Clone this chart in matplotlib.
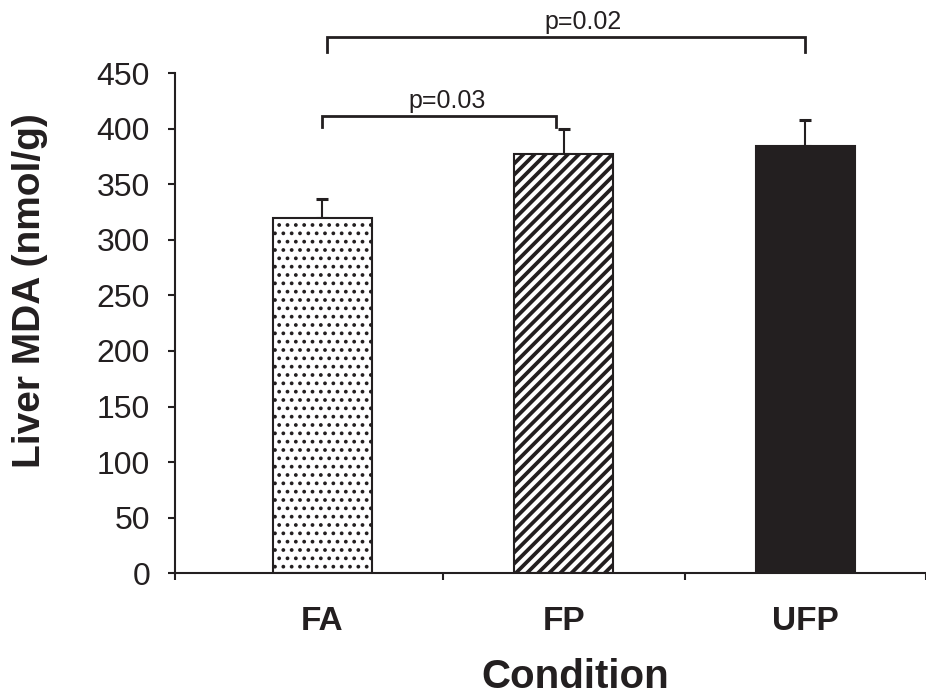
import numpy as np
import matplotlib.pyplot as plt

# liver MDA per exposure group (mean and upper error, nmol/g)
conditions = ['FA', 'FP', 'UFP']
mda_mean = [320, 377, 384]
mda_err = [17, 23, 24]

# significance brackets: left x, right x, bar height, leg bottom, label, label x
brackets = [
    (0.0, 0.967, 411.5, 401.5, 'p=0.03', 0.516),
    (0.02, 2.0, 482.5, 469.0, 'p=0.02', 1.078),
]

ink = '#231f20'
plt.rcParams['font.family'] = ['Liberation Sans', 'DejaVu Sans']
plt.rcParams['hatch.color'] = ink

fig = plt.figure(figsize=(9.26, 6.98), dpi=100)
ax = fig.add_axes([0.189, 0.1786, 0.811, 0.7168])

x = np.arange(len(conditions))
fills = ['white', 'white', ink]
hatches = ['..', '///', None]
hatch_lw = [1.5, 2.7, 1.0]
for i in range(len(conditions)):
    with plt.rc_context({'hatch.linewidth': hatch_lw[i]}):
        ax.bar(x[i], mda_mean[i], width=0.41, color=fills[i], edgecolor=ink,
               linewidth=1.5, hatch=hatches[i], zorder=2)

ax.errorbar(x, mda_mean, yerr=[np.zeros(len(x)), mda_err], fmt='none',
            ecolor=ink, elinewidth=1.5, capsize=4.5, capthick=2.2, zorder=1)

for x0, x1, yb, yl, label, tx in brackets:
    ax.plot([x0, x0, x1, x1], [yl, yb, yb, yl], color=ink, lw=2.0,
            clip_on=False, solid_joinstyle='miter')
    ax.text(tx, yb + 7, label, ha='center', va='baseline', fontsize=18,
            color=ink)

ax.set_xlim(-0.6107, 2.467)
ax.set_ylim(0, 450)
ax.set_yticks(np.arange(0, 451, 50))
ax.tick_params(axis='y', labelsize=23, length=5, width=1.5, pad=13,
               colors=ink)

# tick marks sit between categories, names sit under the bars
ax.set_xticks([-0.6107, 0.5, 1.5, 2.5])
ax.set_xticklabels([])
ax.tick_params(axis='x', length=5, width=1.5, colors=ink)
for xi, name in zip(x, conditions):
    ax.text(xi, -0.1133, name, transform=ax.get_xaxis_transform(),
            ha='center', va='baseline', fontsize=24, fontweight='bold',
            color=ink)

fig.text((575) / 926, (698 - 688) / 698, 'Condition', ha='center',
         va='baseline', fontsize=29, fontweight='bold', color=ink)
fig.text(0.032, (698 - 291) / 698, 'Liver MDA (nmol/g)', rotation=90,
         ha='center', va='center', fontsize=28, fontweight='bold', color=ink)

for side in ['top', 'right']:
    ax.spines[side].set_visible(False)
for side in ['left', 'bottom']:
    ax.spines[side].set_linewidth(1.5)
    ax.spines[side].set_color(ink)

fig.savefig('out.png', dpi=100)
